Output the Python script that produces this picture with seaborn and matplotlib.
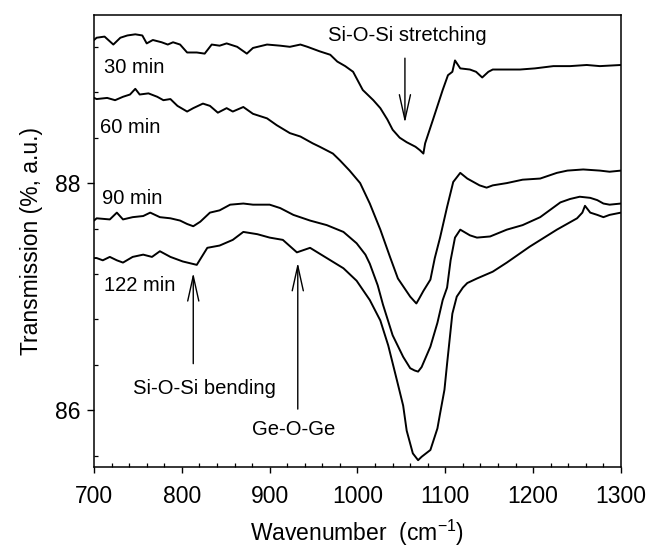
import matplotlib
matplotlib.use("Agg")
import matplotlib.pyplot as plt
from matplotlib.ticker import MultipleLocator
import seaborn as sns
import pandas as pd

# ---------------- data ----------------
wn_30 = [700, 703, 712, 722, 730, 738, 747, 755, 760, 767, 777, 784, 790, 798, 806, 817, 826, 834, 843, 851,
         863, 874, 881, 897, 912, 923, 935, 943, 957, 969, 977, 986, 995, 1006, 1018, 1026, 1034, 1040, 1048, 1056,
         1066, 1071, 1075, 1077, 1086, 1097, 1103, 1108, 1111, 1117, 1128, 1135, 1142, 1149, 1154, 1168, 1185, 1202,
         1223, 1242, 1261, 1276, 1300]
t_30 = [89.26, 89.28, 89.29, 89.22, 89.28, 89.30, 89.31, 89.30, 89.23, 89.26, 89.24, 89.22, 89.24, 89.22, 89.15,
        89.15, 89.14, 89.22, 89.21, 89.23, 89.20, 89.14, 89.19, 89.22, 89.21, 89.20, 89.22, 89.20, 89.16, 89.13,
        89.07, 89.03, 88.98, 88.82, 88.73, 88.66, 88.56, 88.47, 88.40, 88.36, 88.32, 88.29, 88.26, 88.35, 88.56,
        88.82, 88.95, 88.98, 89.08, 89.01, 89.00, 88.98, 88.93, 88.98, 89.00, 89.00, 89.00, 89.01, 89.03, 89.03,
        89.04, 89.03, 89.04]

wn_60 = [700, 703, 715, 724, 733, 741, 747, 752, 762, 772, 779, 787, 795, 806, 813, 824, 832, 841, 851, 858,
         870, 881, 897, 908, 923, 935, 949, 957, 972, 980, 991, 1003, 1014, 1026, 1037, 1046, 1060, 1067, 1070, 1075,
         1083, 1088, 1094, 1102, 1109, 1117, 1125, 1132, 1139, 1147, 1154, 1170, 1188, 1208, 1227, 1239, 1257, 1276,
         1287, 1300]
t_60 = [88.75, 88.74, 88.75, 88.73, 88.76, 88.78, 88.83, 88.78, 88.79, 88.76, 88.73, 88.74, 88.68, 88.63, 88.66,
        88.70, 88.68, 88.62, 88.66, 88.63, 88.67, 88.61, 88.57, 88.51, 88.44, 88.41, 88.35, 88.32, 88.26, 88.20,
        88.11, 88.00, 87.82, 87.59, 87.35, 87.16, 87.00, 86.94, 86.98, 87.05, 87.15, 87.34, 87.52, 87.79, 88.01,
        88.09, 88.04, 88.01, 87.98, 87.96, 87.98, 88.00, 88.03, 88.04, 88.09, 88.11, 88.12, 88.11, 88.10, 88.11]

wn_90 = [700, 703, 718, 726, 733, 744, 756, 764, 775, 787, 798, 806, 813, 821, 832, 843, 855, 870, 881, 889,
         900, 912, 927, 946, 965, 984, 999, 1009, 1014, 1023, 1029, 1040, 1052, 1060, 1065, 1069, 1073, 1083, 1091,
         1097, 1102, 1106, 1111, 1117, 1128, 1136, 1151, 1170, 1188, 1208, 1231, 1242, 1253, 1265, 1273, 1280, 1287,
         1300]
t_90 = [87.67, 87.69, 87.68, 87.74, 87.68, 87.70, 87.71, 87.74, 87.70, 87.69, 87.67, 87.64, 87.62, 87.66, 87.74,
        87.76, 87.81, 87.82, 87.81, 87.81, 87.81, 87.78, 87.72, 87.67, 87.63, 87.57, 87.47, 87.37, 87.29, 87.10,
        86.93, 86.66, 86.47, 86.37, 86.35, 86.34, 86.38, 86.56, 86.77, 86.97, 87.08, 87.32, 87.52, 87.59, 87.54,
        87.52, 87.53, 87.59, 87.63, 87.70, 87.83, 87.86, 87.88, 87.87, 87.85, 87.82, 87.81, 87.82]

wn_122 = [700, 703, 710, 718, 726, 733, 744, 756, 766, 775, 787, 801, 817, 829, 843, 858, 870, 886, 900, 915,
          931, 946, 965, 984, 999, 1014, 1026, 1035, 1045, 1052, 1056, 1063, 1067, 1069, 1073, 1083, 1091, 1094,
          1099, 1102, 1108, 1113, 1120, 1125, 1136, 1154, 1170, 1196, 1227, 1250, 1256, 1259, 1265, 1273, 1280,
          1287, 1300]
t_122 = [87.34, 87.34, 87.32, 87.35, 87.32, 87.30, 87.35, 87.37, 87.35, 87.40, 87.35, 87.31, 87.28, 87.43, 87.45,
         87.50, 87.57, 87.55, 87.52, 87.50, 87.39, 87.43, 87.34, 87.25, 87.14, 86.97, 86.79, 86.57, 86.26, 86.04,
         85.82, 85.62, 85.58, 85.56, 85.59, 85.65, 85.84, 85.97, 86.18, 86.41, 86.85, 87.00, 87.08, 87.12, 87.16,
         87.22, 87.30, 87.44, 87.59, 87.69, 87.74, 87.80, 87.74, 87.72, 87.70, 87.72, 87.74]

series_labels = ["30 min", "60 min", "90 min", "122 min"]
label_x = [711, 707, 709, 711]
label_y = [88.97, 88.44, 87.82, 87.05]

band_texts = ["Si-O-Si stretching", "Si-O-Si bending", "Ge-O-Ge"]
band_text_x = [1057, 826, 927]
band_text_y = [89.25, 86.14, 85.78]
arrow_x = [1054, 813, 932]
arrow_tip_y = [88.53, 87.21, 87.30]
arrow_tail_y = [89.10, 86.41, 86.01]

x_ticks = [700, 800, 900, 1000, 1100, 1200, 1300]
y_ticks = [86, 88]

# ---------------- figure ----------------
sns.set_style("ticks")
plt.rcParams["font.family"] = ["Liberation Sans", "DejaVu Sans"]
plt.rcParams["mathtext.fontset"] = "custom"
plt.rcParams["mathtext.rm"] = "Liberation Sans"

fig = plt.figure(figsize=(6.47, 5.5), dpi=100)
ax = fig.add_axes([0.1453, 0.1509, 0.8145, 0.8218])

frames = []
for lab, w, t in zip(series_labels, [wn_30, wn_60, wn_90, wn_122], [t_30, t_60, t_90, t_122]):
    frames.append(pd.DataFrame({"wn": w, "T": t, "series": lab}))
df = pd.concat(frames, ignore_index=True)

sns.lineplot(data=df, x="wn", y="T", units="series", estimator=None, sort=False,
             color="black", linewidth=1.4, ax=ax, legend=False)

ax.set_xlim(700, 1300)
ax.set_ylim(85.5, 89.48)
ax.set_xticks(x_ticks)
ax.set_yticks(y_ticks)
ax.xaxis.set_minor_locator(MultipleLocator(20))
ax.yaxis.set_minor_locator(MultipleLocator(0.4))
ax.tick_params(axis="both", which="major", direction="out", length=4, width=1.0,
               labelsize=16.5, color="black", labelcolor="black")
ax.tick_params(axis="x", which="major", pad=9)
ax.tick_params(axis="y", which="major", pad=5, length=5)
ax.tick_params(axis="both", which="minor", direction="in", length=3, width=0.9, color="black")
for s in ax.spines.values():
    s.set_visible(True)
    s.set_linewidth(1.1)
    s.set_color("black")

ax.set_xlabel("Wavenumber  (cm$^{\\mathregular{-1}}$)", fontsize=16.5, color="black")
ax.set_ylabel("Transmission (%, a.u.)", fontsize=16.5, color="black")
ax.xaxis.set_label_coords(0.5, -0.112)
ax.yaxis.set_label_coords(-0.097, 0.5)

for lab, x, y in zip(series_labels, label_x, label_y):
    ax.text(x, y, lab, fontsize=14.5, ha="left", va="baseline", color="black")

for txt, x, y in zip(band_texts, band_text_x, band_text_y):
    ax.text(x, y, txt, fontsize=14.6, ha="center", va="baseline", color="black")

for x, ty, sy in zip(arrow_x, arrow_tip_y, arrow_tail_y):
    ax.annotate("", xy=(x, ty), xytext=(x, sy),
                arrowprops=dict(arrowstyle="->,head_length=1.8,head_width=0.4",
                                color="black", lw=1.0, shrinkA=0, shrinkB=0))

fig.savefig("out.png", dpi=100)
